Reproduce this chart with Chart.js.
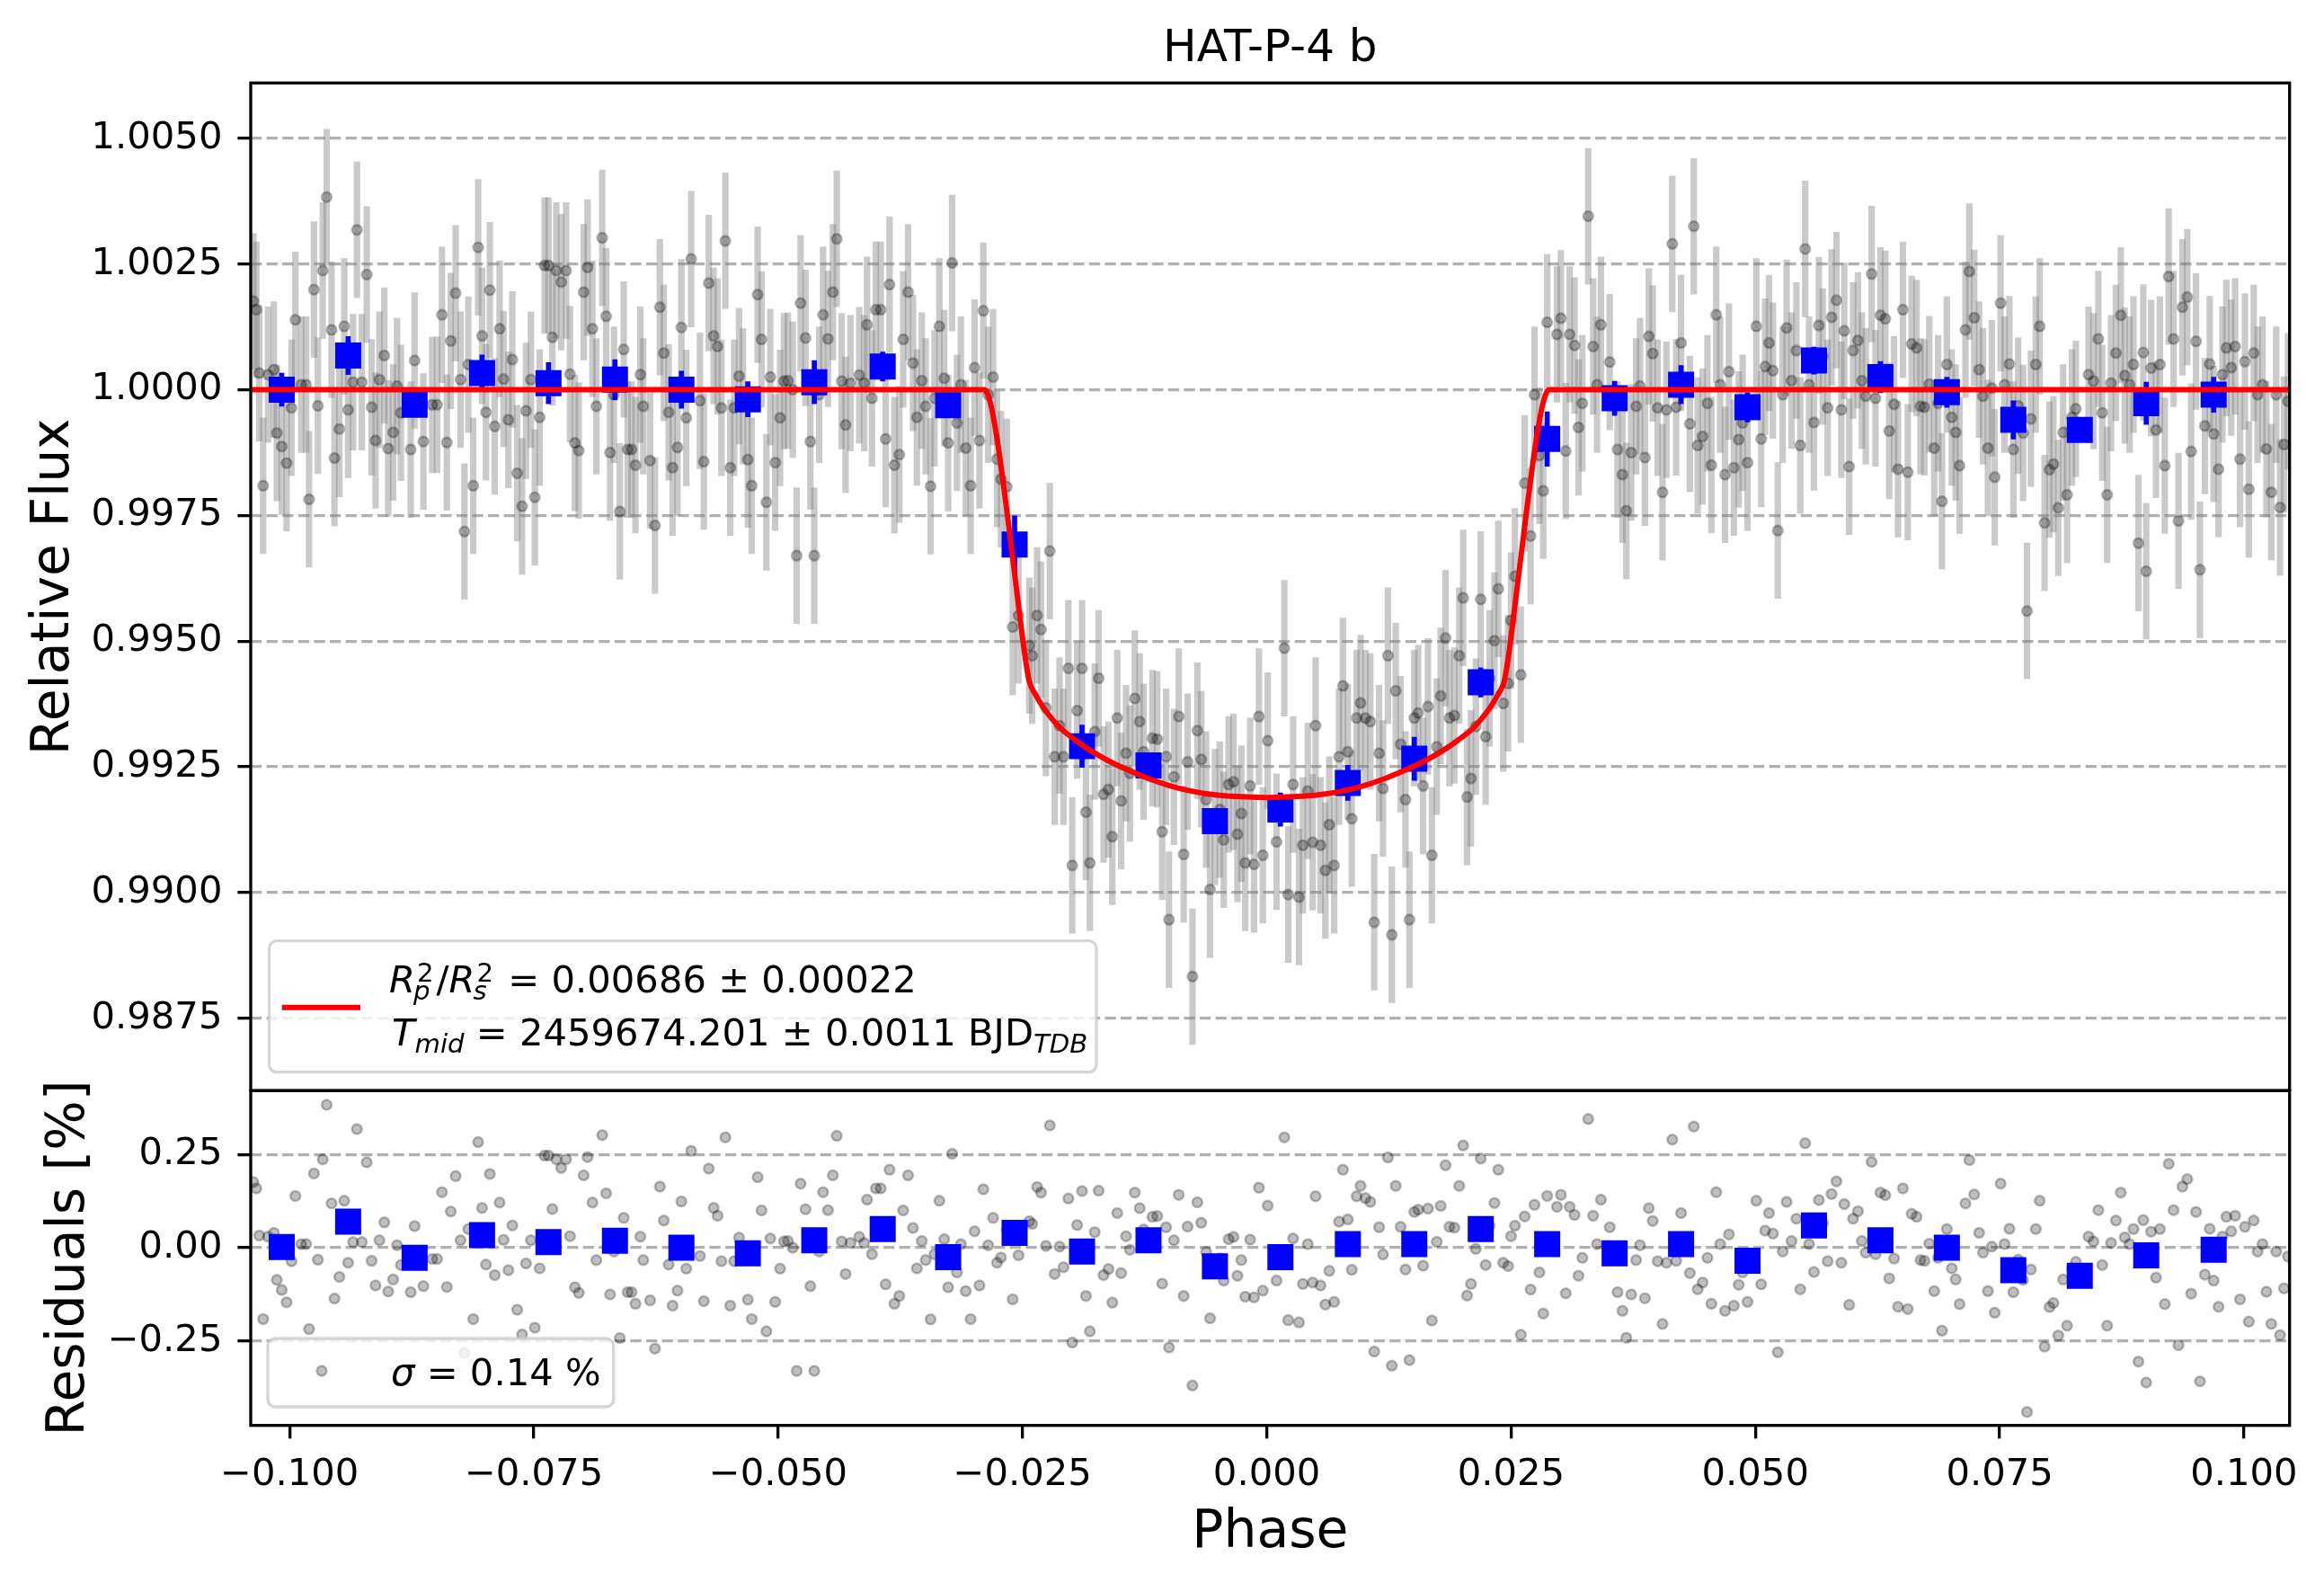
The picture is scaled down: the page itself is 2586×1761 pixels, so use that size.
<!DOCTYPE html>
<html>
<head>
  <meta charset="UTF-8">
  <title>HAT-P-4 b</title>
  <script src="https://cdn.jsdelivr.net/npm/chart.js@4.4.1/dist/chart.umd.min.js"></script>
  <style>
    html, body { margin: 0; padding: 0; background: #ffffff; }
    #wrap { position: relative; width: 2586px; height: 1761px; overflow: hidden; background: #ffffff; }
    #wrap canvas { position: absolute; left: 0; }
  </style>
</head>
<body>
<div id="wrap">
  <canvas id="fluxCanvas" width="2586" height="1214" style="top:0px"></canvas>
  <canvas id="residCanvas" width="2586" height="761" style="top:1000px"></canvas>
</div>
<script>
// ---- tick labels ----
var phaseTicks = [-0.1, -0.075, -0.05, -0.025, 0, 0.025, 0.05, 0.075, 0.1];
var fluxTicks = [0.9875, 0.99, 0.9925, 0.995, 0.9975, 1.0, 1.0025, 1.005];
var residTicks = [-0.25, 0, 0.25];

// ---- unbinned points (phase, relative flux, residual %) ----
var phase = [
  -0.1037,-0.1034,-0.1031,-0.1027,-0.1022,-0.1016,-0.1013,-0.1008,-0.1003,-0.0998,
  -0.0994,-0.0988,-0.0983,-0.0980,-0.0975,-0.0971,-0.0966,-0.0962,-0.0957,-0.0954,
  -0.0949,-0.0944,-0.0940,-0.0935,-0.0931,-0.0926,-0.0921,-0.0916,-0.0912,-0.0908,
  -0.0903,-0.0899,-0.0894,-0.0890,-0.0886,-0.0876,-0.0872,-0.0863,-0.0854,-0.0849,
  -0.0844,-0.0839,-0.0835,-0.0830,-0.0825,-0.0821,-0.0817,-0.0812,-0.0807,-0.0803,
  -0.0799,-0.0795,-0.0790,-0.0785,-0.0781,-0.0776,-0.0772,-0.0767,-0.0762,-0.0758,
  -0.0753,-0.0749,-0.0744,-0.0739,-0.0735,-0.0731,-0.0727,-0.0722,-0.0717,-0.0713,
  -0.0708,-0.0704,-0.0699,-0.0695,-0.0690,-0.0686,-0.0680,-0.0676,-0.0672,-0.0668,
  -0.0662,-0.0658,-0.0654,-0.0650,-0.0646,-0.0641,-0.0638,-0.0631,-0.0626,-0.0621,
  -0.0617,-0.0612,-0.0608,-0.0603,-0.0599,-0.0594,-0.0589,-0.0580,-0.0576,-0.0571,
  -0.0566,-0.0562,-0.0558,-0.0554,-0.0549,-0.0545,-0.0540,-0.0536,-0.0531,-0.0527,
  -0.0521,-0.0517,-0.0512,-0.0508,-0.0503,-0.0498,-0.0494,-0.0490,-0.0485,-0.0481,
  -0.0477,-0.0472,-0.0467,-0.0463,-0.0458,-0.0454,-0.0449,-0.0444,-0.0440,-0.0435,
  -0.0431,-0.0426,-0.0417,-0.0412,-0.0409,-0.0404,-0.0400,-0.0395,-0.0390,-0.0386,
  -0.0381,-0.0376,-0.0372,-0.0367,-0.0362,-0.0358,-0.0353,-0.0349,-0.0344,-0.0340,
  -0.0335,-0.0330,-0.0326,-0.0322,-0.0317,-0.0313,-0.0308,-0.0303,-0.0299,-0.0294,
  -0.0290,-0.0285,-0.0280,-0.0276,-0.0272,-0.0266,-0.0260,-0.0254,-0.0243,-0.0240,
  -0.0235,-0.0231,-0.0226,-0.0222,-0.0217,-0.0212,-0.0208,-0.0203,-0.0199,-0.0194,
  -0.0189,-0.0185,-0.0181,-0.0176,-0.0172,-0.0167,-0.0162,-0.0158,-0.0153,-0.0149,
  -0.0144,-0.0140,-0.0135,-0.0130,-0.0126,-0.0117,-0.0112,-0.0107,-0.0103,-0.0100,
  -0.0095,-0.0090,-0.0085,-0.0081,-0.0076,-0.0071,-0.0067,-0.0062,-0.0058,-0.0053,
  -0.0048,-0.0044,-0.0039,-0.0034,-0.0030,-0.0026,-0.0022,-0.0017,-0.0013,-0.0008,
  -0.0004,0.0001,0.0010,0.0018,0.0022,0.0027,0.0033,0.0037,0.0042,0.0047,
  0.0050,0.0055,0.0060,0.0064,0.0069,0.0074,0.0078,0.0083,0.0087,0.0092,
  0.0096,0.0101,0.0106,0.0110,0.0115,0.0119,0.0124,0.0128,0.0132,0.0137,
  0.0142,0.0146,0.0151,0.0155,0.0160,0.0165,0.0169,0.0174,0.0178,0.0183,
  0.0187,0.0192,0.0197,0.0201,0.0205,0.0209,0.0214,0.0219,0.0224,0.0228,
  0.0233,0.0237,0.0242,0.0247,0.0250,0.0254,0.0260,0.0264,0.0270,0.0274,
  0.0279,0.0283,0.0287,0.0297,0.0301,0.0306,0.0310,0.0315,0.0319,0.0323,
  0.0329,0.0334,0.0338,0.0342,0.0351,0.0359,0.0364,0.0368,0.0373,0.0378,
  0.0382,0.0387,0.0391,0.0395,0.0400,0.0405,0.0409,0.0415,0.0419,0.0424,
  0.0433,0.0437,0.0441,0.0446,0.0451,0.0455,0.0460,0.0464,0.0469,0.0473,
  0.0478,0.0483,0.0487,0.0492,0.0501,0.0506,0.0510,0.0514,0.0518,0.0523,
  0.0528,0.0532,0.0537,0.0542,0.0546,0.0551,0.0555,0.0560,0.0565,0.0569,
  0.0574,0.0578,0.0583,0.0588,0.0591,0.0596,0.0600,0.0605,0.0609,0.0613,
  0.0619,0.0623,0.0628,0.0633,0.0637,0.0642,0.0646,0.0651,0.0656,0.0660,
  0.0665,0.0669,0.0673,0.0678,0.0683,0.0687,0.0691,0.0696,0.0701,0.0705,
  0.0709,0.0715,0.0719,0.0724,0.0729,0.0733,0.0738,0.0742,0.0745,0.0751,
  0.0755,0.0760,0.0764,0.0769,0.0774,0.0778,0.0782,0.0787,0.0791,0.0796,
  0.0801,0.0805,0.0810,0.0815,0.0819,0.0824,0.0828,0.0841,0.0846,0.0851,
  0.0855,0.0860,0.0864,0.0869,0.0874,0.0878,0.0883,0.0887,0.0892,0.0897,
  0.0900,0.0905,0.0910,0.0914,0.0919,0.0923,0.0928,0.0933,0.0937,0.0942,
  0.0946,0.0951,0.0955,0.0960,0.0965,0.0969,0.0974,0.0978,0.0982,0.0987,
  0.0991,0.0996,0.1001,0.1005,0.1010,0.1014,0.1019,0.1023,0.1028,0.1033,
  0.1037,0.1041,0.1045
];
var flux = [
  1.00176,1.00159,1.00033,0.99809,1.00030,1.00040,0.99914,0.99887,0.99854,0.99964,
  1.00139,1.00010,1.00010,0.99782,1.00199,0.99968,1.00237,1.00383,1.00119,0.99864,
  0.99922,1.00126,0.99960,1.00015,1.00318,1.00015,1.00229,0.99965,0.99899,1.00020,
  1.00068,0.99883,0.99915,1.00007,0.99954,0.99881,1.00058,0.99897,0.99970,0.99970,
  1.00149,0.99895,1.00097,1.00192,1.00020,0.99718,1.00050,0.99809,1.00283,1.00107,
  0.99955,1.00198,0.99927,1.00121,1.00021,0.99940,1.00060,0.99834,0.99768,0.99958,
  1.00020,0.99786,0.99945,1.00247,1.00247,1.00104,1.00237,1.00214,1.00237,1.00031,
  0.99894,0.99879,1.00194,1.00243,1.00121,0.99967,1.00302,1.00146,0.99875,0.99990,
  0.99758,1.00080,0.99881,0.99881,0.99850,1.00030,0.99967,0.99859,0.99730,1.00164,
  1.00073,0.99955,0.99845,0.99885,1.00124,0.99944,1.00260,0.99978,0.99857,1.00212,
  1.00107,1.00086,0.99964,1.00296,0.99845,0.99964,1.00027,0.99987,0.99861,0.99809,
  1.00189,1.00100,0.99776,1.00025,0.99855,0.99944,1.00017,1.00018,1.00000,0.99670,
  1.00172,1.00103,0.99897,0.99670,0.99990,1.00149,1.00101,1.00194,1.00300,1.00017,
  0.99930,1.00013,1.00029,1.00013,1.00129,0.99983,1.00159,1.00159,0.99902,1.00209,
  0.99850,0.99871,1.00100,1.00194,1.00053,0.99945,1.00018,0.99967,0.99808,0.99983,
  1.00126,1.00023,0.99894,1.00252,0.99934,1.00010,0.99884,0.99809,1.00044,0.99899,
  1.00157,0.99990,1.00025,0.99862,0.99822,0.99807,0.99528,0.99551,0.99491,0.99471,
  0.99551,0.99523,0.99367,0.99679,0.99270,0.99332,0.99270,0.99446,0.99054,0.99362,
  0.99446,0.99160,0.99059,0.99320,0.99426,0.99195,0.99205,0.99111,0.99347,0.99182,
  0.99277,0.99237,0.99386,0.99340,0.99280,0.99307,0.99305,0.99121,0.99270,0.98946,
  0.99230,0.99350,0.99076,0.99260,0.98833,0.99322,0.99265,0.99185,0.99006,0.99150,
  0.99165,0.99105,0.99215,0.99220,0.99116,0.99157,0.99059,0.99212,0.99056,0.99350,
  0.99074,0.99302,0.99101,0.99486,0.98996,0.99215,0.98991,0.99094,0.99202,0.99100,
  0.99332,0.99094,0.99044,0.99135,0.99054,0.99270,0.99411,0.99280,0.99147,0.99347,
  0.99377,0.99347,0.99340,0.98941,0.99277,0.99207,0.99471,0.98916,0.99401,0.99295,
  0.99185,0.98946,0.99347,0.99357,0.99212,0.99370,0.99074,0.99290,0.99391,0.99506,
  0.99347,0.99352,0.99471,0.99586,0.99190,0.99227,0.99330,0.99583,0.99310,0.99426,
  0.99501,0.99604,0.99376,0.99416,0.99541,0.99629,0.99433,0.99814,0.99709,0.99990,
  0.99869,0.99799,1.00134,1.00110,1.00142,0.99878,1.00110,1.00088,0.99925,0.99973,
  1.00345,1.00086,1.00010,1.00129,1.00055,0.99881,0.99831,0.99759,0.99875,0.99967,
  1.00007,0.99865,1.00106,1.00072,0.99964,0.99796,0.99960,1.00290,0.99965,1.00093,
  0.99932,1.00325,0.99889,0.99907,0.99973,0.99850,1.00149,1.00010,0.99831,1.00036,
  0.99845,0.99901,0.99934,0.99855,1.00126,0.99902,1.00046,1.00093,1.00038,0.99720,
  0.99990,1.00123,1.00018,1.00078,0.99889,1.00280,1.00010,0.99935,1.00128,1.00066,
  0.99964,1.00144,1.00178,0.99960,1.00117,0.99847,1.00078,1.00098,1.00018,0.99987,
  1.00230,0.99983,1.00148,1.00141,0.99918,0.99971,0.99842,1.00159,0.99836,1.00091,
  1.00083,0.99967,0.99965,1.00011,0.99884,0.99973,0.99778,1.00050,0.99945,0.99915,
  0.99849,1.00119,1.00235,1.00143,1.00040,0.99987,0.99884,1.00003,0.99826,1.00172,
  1.00010,1.00051,0.99881,0.99968,0.99914,0.99560,0.99942,1.00050,1.00126,0.99735,
  0.99841,0.99852,0.99765,0.99915,0.99791,0.99945,0.99962,1.00030,1.00017,1.00101,
  0.99954,0.99791,1.00013,1.00073,1.00148,1.00028,1.00010,1.00050,0.99695,1.00074,
  0.99639,1.00043,0.99920,1.00050,0.99849,1.00225,1.00101,0.99739,1.00164,1.00184,
  0.99877,1.00096,0.99642,0.99928,1.00051,0.99912,0.99842,1.00030,1.00083,1.00044,
  1.00086,0.99862,1.00056,0.99802,1.00073,0.99990,1.00010,0.99882,0.99796,0.99990,
  0.99766,0.99891,0.99977
];
var resid = [
  0.176,0.159,0.033,-0.191,0.030,0.040,-0.086,-0.113,-0.146,-0.036,
  0.139,0.010,0.010,-0.218,0.199,-0.032,0.237,0.383,0.119,-0.136,
  -0.078,0.126,-0.040,0.015,0.318,0.015,0.229,-0.035,-0.101,0.020,
  0.068,-0.117,-0.085,0.007,-0.046,-0.119,0.058,-0.103,-0.030,-0.030,
  0.149,-0.105,0.097,0.192,0.020,-0.282,0.050,-0.191,0.283,0.107,
  -0.045,0.198,-0.073,0.121,0.021,-0.060,0.060,-0.166,-0.232,-0.042,
  0.020,-0.214,-0.055,0.247,0.247,0.104,0.237,0.214,0.237,0.031,
  -0.106,-0.121,0.194,0.243,0.121,-0.033,0.302,0.146,-0.125,-0.010,
  -0.242,0.080,-0.119,-0.119,-0.150,0.030,-0.033,-0.141,-0.270,0.164,
  0.073,-0.045,-0.155,-0.115,0.124,-0.056,0.260,-0.022,-0.143,0.212,
  0.107,0.086,-0.036,0.296,-0.155,-0.036,0.027,-0.013,-0.139,-0.191,
  0.189,0.100,-0.224,0.025,-0.145,-0.056,0.017,0.018,0.000,-0.330,
  0.172,0.103,-0.103,-0.330,-0.010,0.149,0.101,0.194,0.300,0.017,
  -0.070,0.013,0.029,0.013,0.129,-0.017,0.159,0.159,-0.098,0.209,
  -0.150,-0.129,0.100,0.194,0.053,-0.055,0.018,-0.033,-0.192,-0.017,
  0.126,0.023,-0.106,0.252,-0.066,0.010,-0.116,-0.191,0.044,-0.101,
  0.157,0.007,0.080,-0.040,-0.026,0.047,-0.138,-0.020,0.071,0.064,
  0.163,0.148,0.005,0.328,-0.070,0.003,-0.052,0.132,-0.254,0.061,
  0.152,-0.129,-0.224,0.042,0.153,-0.073,-0.057,-0.147,0.093,-0.068,
  0.031,-0.005,0.148,0.106,0.049,0.083,0.085,-0.096,0.055,-0.267,
  0.020,0.142,-0.129,0.057,-0.369,0.122,0.067,-0.011,-0.189,-0.044,
  -0.028,-0.088,0.023,0.029,-0.075,-0.033,-0.131,0.022,-0.133,0.161,
  -0.115,0.113,-0.088,0.296,-0.194,0.025,-0.200,-0.097,0.010,-0.093,
  0.138,-0.101,-0.152,-0.062,-0.145,0.070,0.209,0.076,-0.059,0.138,
  0.166,0.133,0.123,-0.278,0.055,-0.018,0.242,-0.316,0.166,0.056,
  -0.058,-0.301,0.096,0.102,-0.048,0.105,-0.195,0.016,0.112,0.221,
  0.056,0.054,0.166,0.274,-0.128,-0.097,-0.003,0.239,-0.046,0.059,
  0.120,0.209,-0.040,-0.049,0.031,0.059,-0.233,0.084,-0.112,0.115,
  -0.066,-0.176,0.139,0.110,0.142,-0.122,0.110,0.088,-0.075,-0.027,
  0.345,0.086,0.010,0.129,0.055,-0.119,-0.169,-0.241,-0.125,-0.033,
  0.007,-0.135,0.106,0.072,-0.036,-0.204,-0.040,0.290,-0.035,0.093,
  -0.068,0.325,-0.111,-0.093,-0.027,-0.150,0.149,0.010,-0.169,0.036,
  -0.155,-0.099,-0.066,-0.145,0.126,-0.098,0.046,0.093,0.038,-0.280,
  -0.010,0.123,0.018,0.078,-0.111,0.280,0.010,-0.065,0.128,0.066,
  -0.036,0.144,0.178,-0.040,0.117,-0.153,0.078,0.098,0.018,-0.013,
  0.230,-0.017,0.148,0.141,-0.082,-0.029,-0.158,0.159,-0.164,0.091,
  0.083,-0.033,-0.035,0.011,-0.116,-0.027,-0.222,0.050,-0.055,-0.085,
  -0.151,0.119,0.235,0.143,0.040,-0.013,-0.116,0.003,-0.174,0.172,
  0.010,0.051,-0.119,-0.032,-0.086,-0.440,-0.058,0.050,0.126,-0.265,
  -0.159,-0.148,-0.235,-0.085,-0.209,-0.055,-0.038,0.030,0.017,0.101,
  -0.046,-0.209,0.013,0.073,0.148,0.028,0.010,0.050,-0.305,0.074,
  -0.361,0.043,-0.080,0.050,-0.151,0.225,0.101,-0.261,0.164,0.184,
  -0.123,0.096,-0.358,-0.072,0.051,-0.088,-0.158,0.030,0.083,0.044,
  0.086,-0.138,0.056,-0.198,0.073,-0.010,0.010,-0.118,-0.204,-0.010,
  -0.234,-0.109,-0.023
];
var fluxErr = 0.00135;   // same size bar on every unbinned point

// ---- binned points ----
var binPhase = [-0.1008,-0.0940,-0.0872,-0.0803,-0.0735,-0.0667,-0.0599,-0.0531,-0.0463,-0.0393,
                -0.0326,-0.0258,-0.0189,-0.0121,-0.0053,0.0014,0.0083,0.0151,0.0219,0.0287,
                0.0356,0.0424,0.0492,0.0560,0.0628,0.0696,0.0764,0.0832,0.0900,0.0969];
var binFlux = [1.00000,1.00068,0.99970,1.00033,1.00013,1.00020,1.00000,0.99981,1.00015,1.00046,
               0.99969,0.99692,0.99291,0.99253,0.99142,0.99165,0.99218,0.99266,0.99418,0.99902,
               0.99983,1.00010,0.99965,1.00058,1.00025,0.99995,0.99940,0.99920,0.99973,0.99990];
var binErr = [0.00033,0.00038,0.00022,0.00036,0.00041,0.00040,0.00037,0.00035,0.00043,0.00029,
              0.00022,0.00057,0.00042,0.00020,0.00020,0.00033,0.00035,0.00043,0.00029,0.00054,
              0.00034,0.00038,0.00029,0.00027,0.00031,0.00030,0.00038,0.00020,0.00042,0.00035];
var binResid = [0.002,0.070,-0.027,0.034,0.015,0.019,0.000,-0.015,0.020,0.050,
                -0.025,0.040,-0.010,0.020,-0.050,-0.025,0.010,0.010,0.050,0.010,
                -0.015,0.010,-0.035,0.060,0.020,0.000,-0.060,-0.075,-0.020,-0.005];

// ---- transit model curve ----
var modelPhase = [-0.1040,-0.0289,-0.0283,-0.0277,-0.0271,-0.0265,-0.0259,-0.0253,-0.0247,-0.0243,
                  -0.0237,-0.0230,-0.0220,-0.0210,-0.0195,-0.0180,-0.0160,-0.0140,-0.0120,-0.0100,
                  -0.0080,-0.0060,-0.0040,-0.0020,0.0000,0.0020,0.0040,0.0060,0.0080,0.0100,
                  0.0120,0.0140,0.0160,0.0180,0.0195,0.0210,0.0220,0.0230,0.0237,0.0243,
                  0.0247,0.0253,0.0259,0.0265,0.0271,0.0277,0.0283,0.0289,0.1050];
var modelFlux = [1.0,1.0,0.99975,0.99915,0.99835,0.99745,0.99650,0.99555,0.99465,0.99420,
                 0.99395,0.99372,0.99346,0.99325,0.99302,0.99282,0.99260,0.99242,0.99226,0.99213,
                 0.99203,0.99196,0.99192,0.99190,0.99189,0.99190,0.99192,0.99196,0.99203,0.99213,
                 0.99226,0.99242,0.99260,0.99282,0.99302,0.99325,0.99346,0.99372,0.99395,0.99420,
                 0.99465,0.99555,0.99650,0.99745,0.99835,0.99915,0.99975,1.0,1.0];

// ---- layout (page pixels) ----
var X_MIN = -0.10397, X_MAX = 0.10467;
var AXIS_LEFT = 279, PAD_RIGHT = 38.3;
var FLUX_BOTTOM = 1213.3;  // page y of the border between the two panels
var FONT = '"DejaVu Sans", "Liberation Sans", sans-serif';
var TICK_PX = 41.7, LABEL_PX = 58.3, TITLE_PX = 50, SCRIPT_PX = 29.2;
var RESID_TOP = 1000;   // page offset of the lower canvas (it overlaps the upper one, transparent)

Chart.defaults.font.family = FONT;
Chart.defaults.font.size = TICK_PX;
Chart.defaults.color = '#000000';

function minus(s) { return s.replace('-', '\u2212'); }
function fixedTicks(values) {
  return function (scale) { scale.ticks = values.map(function (v) { return { value: v }; }); };
}
// fixes an axis box size and stops its tick labels from pushing the plot area around
function fixSize(width, height) {
  return function (s) {
    if (width !== null) s.width = width;
    if (height !== null) s.height = height;
    s.paddingTop = 0; s.paddingBottom = 0; s.paddingLeft = 0; s.paddingRight = 0;
  };
}

var yGrid = { color: '#b0b0b0', lineWidth: 3.3, tickLength: 14.6, tickColor: '#000000', tickWidth: 3.3, tickBorderDash: [] };

// draws text pieces one after another, with mathtext-like sub/superscripts
function drawPieces(ctx, x, y, pieces) {
  var cx = x;
  pieces.forEach(function (p) {
    if (p.sub !== undefined) {
      ctx.font = SCRIPT_PX + 'px ' + FONT;
      var wSup = ctx.measureText(p.sup).width;
      ctx.fillText(p.sup, cx + 2, y - 12);
      ctx.font = 'italic ' + SCRIPT_PX + 'px ' + FONT;
      var wSub = ctx.measureText(p.sub).width;
      ctx.fillText(p.sub, cx - 2, y + 8);
      cx += Math.max(wSup + 2, wSub - 2) + 3;
      return;
    }
    var size = p.small ? SCRIPT_PX : TICK_PX;
    ctx.font = (p.it ? 'italic ' : '') + size + 'px ' + FONT;
    ctx.fillText(p.t, cx, y + (p.dy || 0));
    cx += ctx.measureText(p.t).width;
  });
}

function legendBox(ctx, x, y, w, h) {
  ctx.save();
  ctx.beginPath();
  ctx.roundRect(x, y, w, h, 8.3);
  ctx.fillStyle = 'rgba(255,255,255,0.8)';
  ctx.fill();
  ctx.lineWidth = 3.3;
  ctx.strokeStyle = 'rgba(204,204,204,0.8)';
  ctx.stroke();
  ctx.restore();
}

function frame(chart) {
  var a = chart.chartArea, ctx = chart.ctx;
  ctx.save();
  ctx.lineWidth = 3.3;
  ctx.strokeStyle = '#000000';
  ctx.strokeRect(a.left, a.top, a.right - a.left, a.bottom - a.top);
  ctx.restore();
}

var fluxDecor = {
  id: 'fluxDecor',
  afterDraw: function (chart) {
    var ctx = chart.ctx;
    legendBox(ctx, 299.6, 1046.7, 920.4, 146);
    ctx.save();
    ctx.strokeStyle = '#ff0000';
    ctx.lineWidth = 6;
    ctx.beginPath();
    ctx.moveTo(313.7, 1120.7);
    ctx.lineTo(401, 1120.7);
    ctx.stroke();
    ctx.fillStyle = '#000000';
    ctx.textBaseline = 'alphabetic';
    ctx.textAlign = 'left';
    drawPieces(ctx, 433, 1104, [
      { t: 'R', it: true }, { sub: 'p', sup: '2' }, { t: '/' },
      { t: 'R', it: true }, { sub: 's', sup: '2' },
      { t: ' = 0.00686 \u00b1 0.00022' }
    ]);
    drawPieces(ctx, 436, 1163.3, [
      { t: 'T', it: true }, { t: 'mid', it: true, small: true, dy: 8 },
      { t: ' = 2459674.201 \u00b1 0.0011 BJD' },
      { t: 'TDB', it: true, small: true, dy: 8 }
    ]);
    ctx.textAlign = 'center';
    ctx.font = TITLE_PX + 'px ' + FONT;
    ctx.fillText('HAT-P-4 b', (AXIS_LEFT + 2547.7) / 2, 68);
    ctx.font = LABEL_PX + 'px ' + FONT;
    ctx.translate(76, 652.8);
    ctx.rotate(-Math.PI / 2);
    ctx.fillText('Relative Flux', 0, 0);
    ctx.restore();
    frame(chart);
  }
};

var residDecor = {
  id: 'residDecor',
  afterDraw: function (chart) {
    var ctx = chart.ctx;
    legendBox(ctx, 298, 1489 - RESID_TOP, 384.7, 76);
    ctx.save();
    ctx.beginPath();
    ctx.arc(358, 1525 - RESID_TOP, 5.5, 0, Math.PI * 2);
    ctx.fillStyle = 'rgba(0,0,0,0.25)';
    ctx.fill();
    ctx.lineWidth = 2.5;
    ctx.strokeStyle = 'rgba(0,0,0,0.25)';
    ctx.stroke();
    ctx.fillStyle = '#000000';
    ctx.textAlign = 'left';
    ctx.textBaseline = 'alphabetic';
    drawPieces(ctx, 435, 1540.7 - RESID_TOP, [{ t: '\u03c3', it: true }, { t: ' = 0.14 %' }]);
    ctx.textAlign = 'center';
    ctx.font = LABEL_PX + 'px ' + FONT;
    ctx.fillText('Phase', (AXIS_LEFT + 2547.7) / 2, 1720.5 - RESID_TOP);
    ctx.translate(93, 1399.5 - RESID_TOP);
    ctx.rotate(-Math.PI / 2);
    ctx.fillText('Residuals [%]', 0, 0);
    ctx.restore();
    frame(chart);
  }
};

var N = Math.min(phase.length, flux.length, resid.length);
var grayPts = [], grayBars = [], residPts = [];
for (var i = 0; i < N; i++) {
  grayPts.push({ x: phase[i], y: flux[i] });
  grayBars.push({ x: phase[i], y: [flux[i] - fluxErr, flux[i] + fluxErr] });
  residPts.push({ x: phase[i], y: resid[i] });
}
var binPts = binPhase.map(function (p, k) { return { x: p, y: binFlux[k] }; });
var binBars = binPhase.map(function (p, k) { return { x: p, y: [binFlux[k] - binErr[k], binFlux[k] + binErr[k]] }; });
var binResPts = binPhase.map(function (p, k) { return { x: p, y: binResid[k] }; });
var modelPts = modelPhase.map(function (p, k) { return { x: p, y: modelFlux[k] }; });

var grayPoint = {
  pointRadius: 5.5, pointHoverRadius: 5.5,
  pointBackgroundColor: 'rgba(0,0,0,0.25)', pointBorderColor: 'rgba(0,0,0,0.25)', pointBorderWidth: 2.5
};
var bluePoint = {
  pointStyle: 'rect', pointRadius: 20.5, pointHoverRadius: 20.5,
  pointBackgroundColor: '#0000ff', pointBorderWidth: 0
};

new Chart(document.getElementById('fluxCanvas'), {
  type: 'scatter',
  data: {
    datasets: [
      { type: 'bar', data: grayBars, backgroundColor: 'rgba(128,128,128,0.42)', borderWidth: 0,
        barThickness: 6.5, grouped: false, order: 5, clip: 0 },
      Object.assign({ type: 'scatter', data: grayPts, order: 4, clip: 0 }, grayPoint),
      { type: 'bar', data: binBars, backgroundColor: '#0000ff', borderWidth: 0,
        barThickness: 5, grouped: false, order: 3, clip: 0 },
      Object.assign({ type: 'scatter', data: binPts, order: 2, clip: 0 }, bluePoint),
      { type: 'line', data: modelPts, borderColor: '#ff0000', borderWidth: 6, pointRadius: 0,
        cubicInterpolationMode: 'monotone', fill: false, order: 1, clip: 0 }
    ]
  },
  options: {
    responsive: false, maintainAspectRatio: false, animation: false, devicePixelRatio: 1, events: [],
    layout: { autoPadding: false, padding: { left: 0, right: PAD_RIGHT, top: 92.3, bottom: 0 } },
    plugins: { legend: { display: false }, tooltip: { enabled: false } },
    scales: {
      x: {
        type: 'linear', min: X_MIN, max: X_MAX, offset: false,
        afterFit: fixSize(null, 1214 - FLUX_BOTTOM),
        ticks: { display: false },
        grid: { display: false, offset: false },
        border: { display: false }
      },
      y: {
        type: 'linear', min: 0.98606, max: 1.0061,
        afterBuildTicks: fixedTicks(fluxTicks),
        afterFit: fixSize(AXIS_LEFT, null),
        ticks: { callback: function (v) { return minus(v.toFixed(4)); }, padding: 17, autoSkip: false },
        grid: yGrid,
        border: { display: false, dash: [12.3, 5.3] }
      }
    }
  },
  plugins: [fluxDecor]
});

new Chart(document.getElementById('residCanvas'), {
  type: 'scatter',
  data: {
    datasets: [
      Object.assign({ type: 'scatter', data: residPts, order: 2, clip: 0 }, grayPoint),
      Object.assign({ type: 'scatter', data: binResPts, order: 1, clip: 0 }, bluePoint)
    ]
  },
  options: {
    responsive: false, maintainAspectRatio: false, animation: false, devicePixelRatio: 1, events: [],
    layout: { autoPadding: false, padding: { left: 0, right: PAD_RIGHT, top: FLUX_BOTTOM - RESID_TOP, bottom: 0 } },
    plugins: { legend: { display: false }, tooltip: { enabled: false } },
    scales: {
      x: {
        type: 'linear', min: X_MIN, max: X_MAX, offset: false,
        afterBuildTicks: fixedTicks(phaseTicks),
        afterFit: fixSize(null, 1761 - 1585.7),
        ticks: { callback: function (v) { return minus(v.toFixed(3)); }, padding: 16, maxRotation: 0, autoSkip: false },
        grid: { drawOnChartArea: false, color: '#000000', lineWidth: 3.3, tickLength: 14.6, tickColor: '#000000', tickWidth: 3.3 },
        border: { display: false }
      },
      y: {
        type: 'linear', min: -0.476, max: 0.421,
        afterBuildTicks: fixedTicks(residTicks),
        afterFit: fixSize(AXIS_LEFT, null),
        ticks: { callback: function (v) { return minus(v.toFixed(2)); }, padding: 17, autoSkip: false },
        grid: yGrid,
        border: { display: false, dash: [12.3, 5.3] }
      }
    }
  },
  plugins: [residDecor]
});
</script>
</body>
</html>
